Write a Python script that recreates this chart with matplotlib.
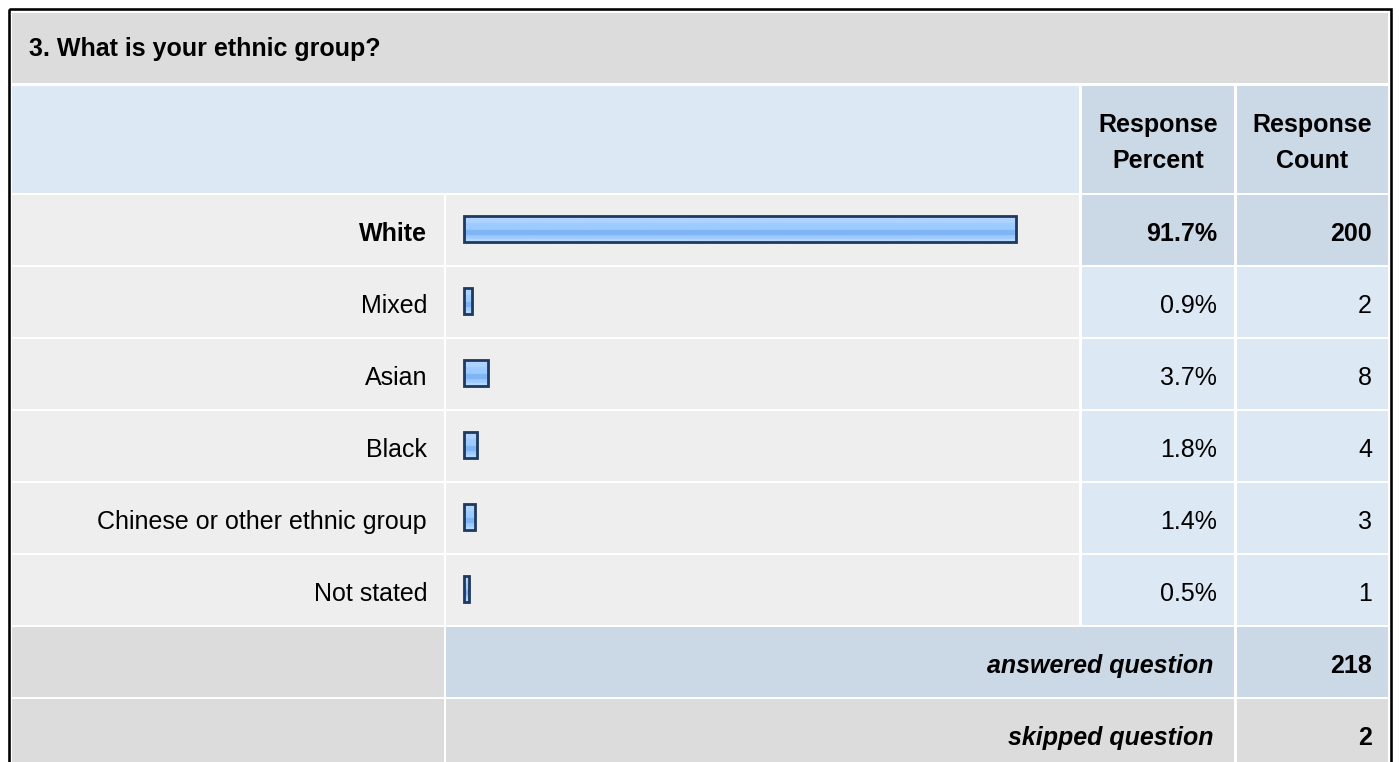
import numpy as np
import matplotlib
matplotlib.use("Agg")
import matplotlib.pyplot as plt
from matplotlib.patches import Rectangle
from matplotlib.colors import to_rgb

# ---------------- data ----------------
title = "3. What is your ethnic group?"
categories = ["White", "Mixed", "Asian", "Black",
              "Chinese or other ethnic group", "Not stated"]
percents = [91.7, 0.9, 3.7, 1.8, 1.4, 0.5]
counts = [200, 2, 8, 4, 3, 1]
header_percent = "Response\nPercent"
header_count = "Response\nCount"
answered_label = "answered question"
answered_value = 218
skipped_label = "skipped question"
skipped_value = 2

# ---------------- style ----------------
W, H = 1399, 762
DPI = 100
FONT = "Liberation Sans"
FS = 18
C_TITLE = "#dcdcdc"
C_HEAD_L = "#dde8f5"
C_HEAD_R = "#cbd8e6"
C_ROW = "#eeeeee"
C_ROW_R = "#dde8f5"
C_HI = "#cbd8e6"
C_GREY = "#dcdcdc"
C_EDGE = "#1f3a5e"
BAR_PAD = 0.35   # small extra width drawn to the left of each bar (style)

# layout (pixels)
X_L0, X_L1 = 12, 444      # label column
X_B0, X_B1 = 446, 1079    # bar column
X_P0, X_P1 = 1082, 1234   # percent column
X_C0, X_C1 = 1237, 1388   # count column
ROW_TOP0 = 195
PITCH = 72
ROW_H = 70
TXT_DY = 4

fig = plt.figure(figsize=(W / DPI, H / DPI), dpi=DPI, facecolor="white")
bg = fig.add_axes([0, 0, 1, 1])
bg.set_xlim(0, W)
bg.set_ylim(H, 0)
bg.axis("off")


def cell(x0, x1, y0, y1, color):
    bg.add_patch(Rectangle((x0, y0), x1 - x0, y1 - y0, facecolor=color,
                           edgecolor="none", zorder=1))


def txt(x, y, s, ha="left", weight="normal", style="normal"):
    bg.text(x, y, s, ha=ha, va="center", fontsize=FS, family=FONT,
            fontweight=weight, fontstyle=style, color="#000000", zorder=5,
            linespacing=1.66)


# title row
cell(X_L0, X_C1, 13, 83, C_TITLE)
txt(29, 49, title, weight="bold")

# header row
cell(X_L0, X_B1, 86, 193, C_HEAD_L)
cell(X_P0, X_P1, 86, 193, C_HEAD_R)
cell(X_C0, X_C1, 86, 193, C_HEAD_R)
txt((X_P0 + X_P1) / 2, 143, header_percent, ha="center", weight="bold")
txt((X_C0 + X_C1) / 2, 143, header_count, ha="center", weight="bold")

# data rows
max_count = max(counts)
for i, (cat, p, c) in enumerate(zip(categories, percents, counts)):
    y0 = ROW_TOP0 + PITCH * i
    y1 = y0 + ROW_H
    yc = (y0 + y1) / 2 + TXT_DY
    hi = c == max_count
    cell(X_L0, X_L1, y0, y1, C_ROW)
    cell(X_B0, X_B1, y0, y1, C_ROW)
    cell(X_P0, X_P1, y0, y1, C_HI if hi else C_ROW_R)
    cell(X_C0, X_C1, y0, y1, C_HI if hi else C_ROW_R)
    w = "bold" if hi else "normal"
    txt(X_L1 - 17, yc, cat, ha="right", weight=w)
    txt(X_P1 - 17, yc, f"{p:.1f}%", ha="right", weight=w)
    txt(X_C1 - 16, yc, str(c), ha="right", weight=w)

# answered row
n = len(categories)
y0 = ROW_TOP0 + PITCH * n
cell(X_L0, X_L1, y0, y0 + ROW_H, C_GREY)
cell(X_B0, X_P1, y0, y0 + ROW_H, C_HI)
cell(X_C0, X_C1, y0, y0 + ROW_H, C_HI)
txt(X_P1 - 21, y0 + ROW_H / 2 + TXT_DY, answered_label, ha="right",
    weight="bold", style="italic")
txt(X_C1 - 16, y0 + ROW_H / 2 + TXT_DY, str(answered_value), ha="right",
    weight="bold")

# skipped row
y0 = ROW_TOP0 + PITCH * (n + 1)
cell(X_L0, X_L1, y0, H + 20, C_GREY)
cell(X_B0, X_P1, y0, H + 20, C_GREY)
cell(X_C0, X_C1, y0, H + 20, C_GREY)
txt(X_P1 - 21, y0 + ROW_H / 2 + TXT_DY, skipped_label, ha="right",
    weight="bold", style="italic")
txt(X_C1 - 16, y0 + ROW_H / 2 + TXT_DY, str(skipped_value), ha="right",
    weight="bold")

# outer frame
bg.add_patch(Rectangle((9, 9), 1382, H + 40, facecolor="none",
                       edgecolor="#000000", lw=2.6 * 72 / DPI, zorder=6))

# ---------------- bar axes ----------------
px_per_pct = 6.0
XMIN, XMAX = -2.0, 100.0
bar_start_px = 464.0                     # pixel where x = -BAR_PAD sits
ax_left_px = bar_start_px - (-BAR_PAD - XMIN) * px_per_pct
ax_width_px = (XMAX - XMIN) * px_per_pct
bar_top_px = ROW_TOP0 - 2
bar_h_px = PITCH * n
ax = fig.add_axes([ax_left_px / W, 1 - (bar_top_px + bar_h_px) / H,
                   ax_width_px / W, bar_h_px / H])
ax.patch.set_alpha(0)
ax.axis("off")

ypos = np.arange(n)
bh = 0.37
widths = [p + BAR_PAD for p in percents]
bars = ax.barh(ypos, widths, height=bh, left=-BAR_PAD, color="none",
               edgecolor=C_EDGE, linewidth=2.8 * 72 / DPI, zorder=3)

grad_stops = [(0.00, "#c8e1ff"), (0.10, "#c8e1ff"), (0.11, "#add3ff"),
              (0.29, "#add3ff"), (0.30, "#9dcbff"), (0.55, "#9dcbff"),
              (0.56, "#7fb4f5"), (0.75, "#7fb4f5"), (0.76, "#9ccaff"),
              (0.88, "#9ccaff"), (0.89, "#b4d8ff"), (1.00, "#b4d8ff")]
rows = 60
tt = np.linspace(0, 1, rows)
pos = [s[0] for s in grad_stops]
cols = np.array([to_rgb(s[1]) for s in grad_stops])
grad = np.stack([np.interp(tt, pos, cols[:, k]) for k in range(3)], axis=1)
grad = grad[:, None, :]

for b, y, p in zip(bars, ypos, percents):
    im = ax.imshow(grad, extent=(-BAR_PAD, p, y + bh / 2, y - bh / 2),
                   aspect="auto", origin="upper", zorder=2,
                   interpolation="bilinear")
    im.set_clip_path(b)

ax.set_xlim(XMIN, XMAX)
ax.set_ylim(n - 0.5, -0.5)

fig.savefig("out.png", dpi=DPI, facecolor="white")
